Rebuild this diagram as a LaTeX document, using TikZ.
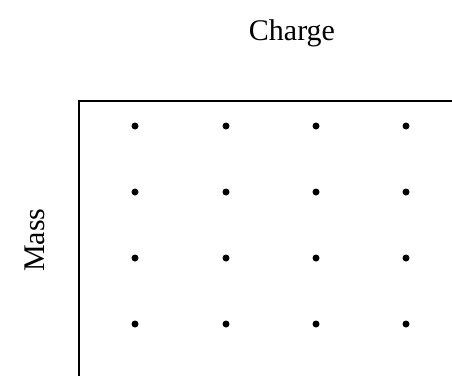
\documentclass[tikz,border=0pt]{standalone}
\usepackage{fontspec}
\setmainfont{Liberation Serif}
\tikzset{
  axislabel/.style={font=\fontsize{12}{14}\selectfont},
  gridpt/.style={circle,fill=black,inner sep=0pt,minimum size=2.8pt}
}
\begin{document}
\begin{tikzpicture}[x=0.4pt,y=-0.4pt]
  % canvas, in pixel units
  \useasboundingbox (0,0) rectangle (452,376);

  % Frame corner and open ends
  \coordinate (C) at (78.5,101);
  \coordinate (R) at (452,101);
  \coordinate (D) at (78.5,376);
  \draw[line width=0.8pt] (R) -- (C) -- (D);

  % Axis labels
  \node[axislabel] (charge) at (292,33) {Charge};
  \node[axislabel,rotate=90] (mass) at (35,240) {Mass};

  % Grid of points
  \foreach \i/\x in {1/135,2/226,3/316,4/406}
    \foreach \j/\y in {1/126,2/192,3/258,4/324}
      \node[gridpt] (p\i\j) at (\x,\y) {};
\end{tikzpicture}
\end{document}
